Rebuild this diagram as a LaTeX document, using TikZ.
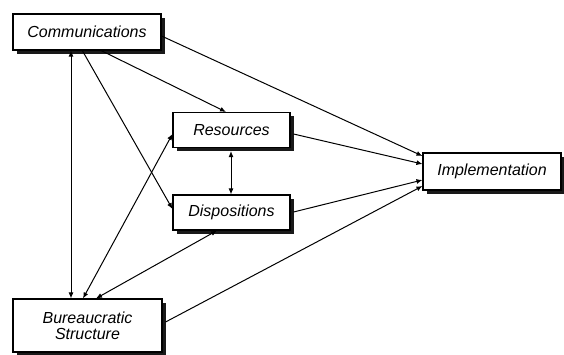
\documentclass[tikz,border=0pt]{standalone}
\usepackage{fontspec}
\setmainfont{Liberation Sans}
\usetikzlibrary{arrows.meta,shadows}
\begin{document}
\begin{tikzpicture}[x=1pt,y=-1pt,
  box/.style={draw=black, line width=1.1pt, fill=white, rectangle, inner sep=0pt,
    font=\itshape\fontsize{16}{17}\selectfont, align=center,
    drop shadow={shadow xshift=3.5pt, shadow yshift=-3.5pt, fill=black, opacity=0.9}},
  arr/.style={line width=1pt, -{Latex[length=6pt,width=5pt]}},
  darr/.style={line width=1pt, {Latex[length=6pt,width=5pt]}-{Latex[length=6pt,width=5pt]}}]
\useasboundingbox (0,0) rectangle (564,354);
\node[box, minimum width=148pt, minimum height=36pt] (comm) at (87,32) {Communications};
\node[box, minimum width=117pt, minimum height=35pt] (res) at (231.5,130) {Resources};
\node[box, minimum width=117pt, minimum height=35pt] (disp) at (231.5,212.5) {Dispositions};
\node[box, minimum width=138pt, minimum height=37pt] (impl) at (492,171.5) {Implementation};
\node[box, minimum width=149pt, minimum height=53pt] (bur) at (87.5,325.5) {Bureaucratic\\[-1pt]Structure};
\draw[arr] (comm.east|-0,36) -- (impl.west|-0,156);
\draw[arr] (100,50) -- (res.north-|226,0);
\draw[arr] (82,50) -- (disp.west|-0,209);
\draw[darr] (comm.south-|71,0) -- (bur.north-|71,0);
\draw[darr] (bur.north-|83,0) -- (res.west|-0,134);
\draw[darr] (bur.north-|96,0) -- (disp.south-|217,0);
\draw[darr] (res.south-|231,0) ++(0,3) -- ([yshift=0pt]disp.north-|231,0);
\draw[arr] (res.east|-0,134) ++(3,0) -- (impl.west|-0,164);
\draw[arr] (disp.east|-0,212) ++(3,0) -- (impl.west|-0,180);
\draw[arr] (bur.east|-0,322) ++(3,0) -- (impl.west|-0,186);
\end{tikzpicture}
\end{document}
